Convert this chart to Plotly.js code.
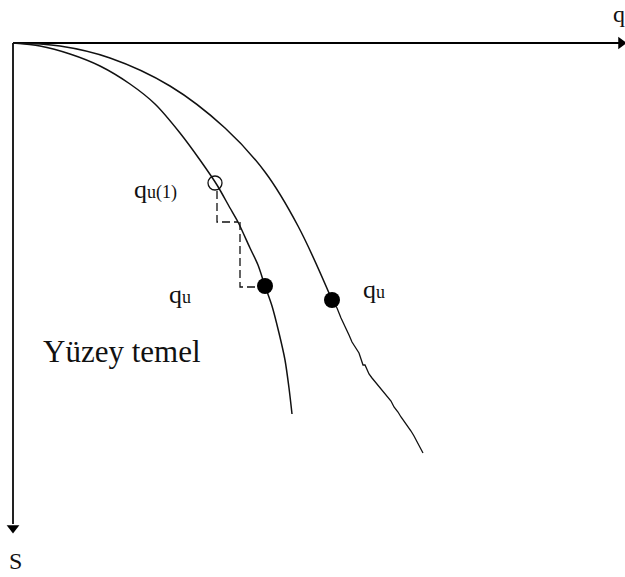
<!DOCTYPE html>
<html><head><meta charset="utf-8">
<script src="https://cdn.plot.ly/plotly-3.0.1.min.js"></script>
<style>html,body{margin:0;padding:0;background:#fff}</style>
</head><body><div id="chart" style="width:625px;height:577px"></div>
<script>
// Schematic values (q horizontal, S downward)
const axisQ_x = [13, 621];
const axisQ_y = [43, 43];
const axisS_x = [13, 13];
const axisS_y = [43, 524];
const arrowX = [621, 13];
const arrowY = [43, 528];
const arrowSym = ['triangle-right', 'triangle-down'];

const innerQ = [13, 40, 70, 100, 130, 155, 180, 200, 217, 230, 238, 250, 258, 265, 272, 279, 285, 289, 292];
const innerS = [43, 46, 54, 66, 84, 104, 133, 160, 185, 208, 222, 248, 265, 286, 306, 333, 360, 388, 414];

const outerQ = [13, 60, 110, 170, 225, 265, 298, 332];
const outerS = [43, 46, 58, 86, 128, 172, 226, 300];
const outerTailQ = [332, 337, 341, 345, 349, 352, 356, 359, 361, 363, 365, 367, 369, 372, 376, 380, 384, 388, 391, 394, 398, 401, 404, 408, 411, 414, 417, 420, 423];
const outerTailS = [300, 308, 318, 326, 335, 342, 348, 353, 359, 365, 365, 369, 374, 378, 383, 388, 392, 397, 401, 407, 412, 417, 421, 426, 431, 436, 442, 447, 453];

const openQ = [215], openS = [183];
const dotQ = [265, 332], dotS = [286, 300];

const dash1Q = [217, 217, 238], dash1S = [191, 222, 222];
const dash2Q = [240, 240, 259], dash2S = [222, 287, 287];

const sub = s => '<span style="font-size:18px">' + s + '</span>';
const labels = [
  {t: 'q' + sub('u(1)'), x: 132, y: 189},
  {t: 'q' + sub('u'), x: 167, y: 294},
  {t: 'q' + sub('u'), x: 361, y: 289},
  {t: 'Yüzey temel', x: 41, y: 351, s: 31},
  {t: 'q', x: 611, y: 14, s: 24},
  {t: 'S', x: 7, y: 561, s: 24}
];

const black = '#000';
const traces = [
  {x: axisQ_x, y: axisQ_y, mode: 'lines', line: {color: black, width: 2}},
  {x: axisS_x, y: axisS_y, mode: 'lines', line: {color: '#222', width: 2}},
  {x: arrowX, y: arrowY, mode: 'markers', marker: {symbol: arrowSym, size: 11, color: black}},
  {x: innerQ, y: innerS, mode: 'lines', line: {color: '#111', width: 1.5, shape: 'spline', smoothing: 0.8}},
  {x: outerQ, y: outerS, mode: 'lines', line: {color: '#111', width: 1.5, shape: 'spline', smoothing: 1}},
  {x: outerTailQ, y: outerTailS, mode: 'lines', line: {color: '#111', width: 1.3}},
  {x: dash1Q, y: dash1S, mode: 'lines', line: {color: '#111', width: 1.3, dash: '8px,4px'}},
  {x: dash2Q, y: dash2S, mode: 'lines', line: {color: '#111', width: 1.3, dash: '8px,4px'}},
  {x: openQ, y: openS, mode: 'markers', marker: {symbol: 'circle-open', size: 14, color: '#111', line: {width: 1.3}}},
  {x: dotQ, y: dotS, mode: 'markers', marker: {symbol: 'circle', size: 16, color: black}}
];

const annotations = labels.map(l => ({
  text: l.t, x: l.x, y: l.y, xref: 'x', yref: 'y', showarrow: false,
  xanchor: 'left', yanchor: 'middle',
  font: {family: 'Liberation Serif, Times New Roman, serif', size: l.s || 26, color: '#111'}
}));

const layout = {
  width: 625, height: 577,
  margin: {l: 0, r: 0, t: 0, b: 0},
  paper_bgcolor: '#fff', plot_bgcolor: '#fff',
  showlegend: false,
  xaxis: {range: [0, 625], visible: false, fixedrange: true},
  yaxis: {range: [577, 0], visible: false, fixedrange: true},
  annotations: annotations
};
Plotly.newPlot('chart', traces, layout, {staticPlot: true});
</script></body></html>
